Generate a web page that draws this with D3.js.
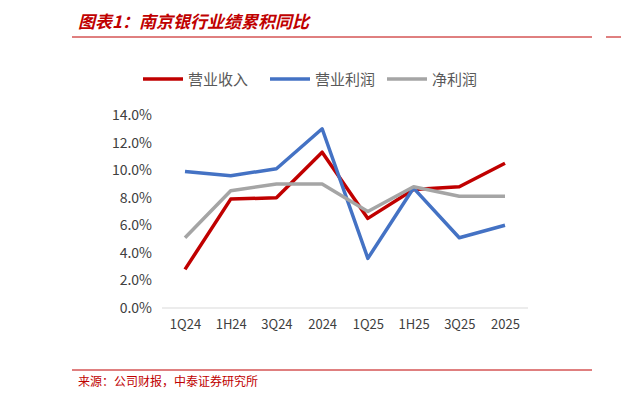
<!DOCTYPE html>
<html><head><meta charset="utf-8">
<script src="https://cdn.jsdelivr.net/npm/d3@7"></script>
<style>body{margin:0;background:#fff}</style>
</head><body>
<svg id="c" width="621" height="400"></svg>
<script>
// data
var categories = ['1Q24', '1H24', '3Q24', '2024', '1Q25', '1H25', '3Q25', '2025'];
var revenue = [2.8, 7.9, 8.0, 11.3, 6.5, 8.6, 8.8, 10.5];
var opProfit = [9.9, 9.6, 10.1, 13.0, 3.6, 8.7, 5.1, 6.0];
var netProfit = [5.1, 8.5, 9.0, 9.0, 7.0, 8.8, 8.1, 8.1];
var yTicks = [0, 2, 4, 6, 8, 10, 12, 14];

var series = [
  {name: '营业收入', values: revenue, color: '#C00000'},
  {name: '营业利润', values: opProfit, color: '#4472C4'},
  {name: '净利润', values: netProfit, color: '#A5A5A5'}
];

var svg = d3.select('#c');
var font = '"Noto Sans CJK SC", sans-serif';

// title + rules
svg.append('text').attr('x', 78).attr('y', 28)
  .attr('font-family', font).attr('font-size', 17).attr('font-weight', 'bold')
  .attr('font-style', 'italic').attr('fill', '#C00000')
  .text('图表1：南京银行业绩累积同比');
svg.append('line').attr('x1', 72).attr('x2', 592).attr('y1', 37).attr('y2', 37)
  .attr('stroke', '#C00000').attr('stroke-width', 1);
svg.append('line').attr('x1', 606).attr('x2', 621).attr('y1', 37).attr('y2', 37)
  .attr('stroke', '#C00000').attr('stroke-width', 1);
svg.append('line').attr('x1', 72).attr('x2', 592).attr('y1', 370).attr('y2', 370)
  .attr('stroke', '#C00000').attr('stroke-width', 1);
svg.append('text').attr('x', 78).attr('y', 386)
  .attr('font-family', font).attr('font-size', 12).attr('fill', '#C00000')
  .text('来源：公司财报，中泰证券研究所');

var x = d3.scalePoint().domain(categories).range([185, 505]);
var y = d3.scaleLinear().domain([0, 14]).range([308, 115]);

var yAxis = svg.append('g').attr('transform', 'translate(158,0)')
  .call(d3.axisLeft(y).tickValues(yTicks).tickSize(0).tickPadding(6)
    .tickFormat(function(d) { return d.toFixed(1) + '%'; }));
yAxis.select('.domain').remove();
yAxis.selectAll('text').attr('font-family', font).attr('font-size', 14).attr('fill', '#404040');

var xAxis = svg.append('g').attr('transform', 'translate(0,308)')
  .call(d3.axisBottom(x).tickSize(0).tickPadding(12));
xAxis.select('.domain').attr('d', 'M162,0H528').attr('stroke', '#D9D9D9');
xAxis.selectAll('text').attr('font-family', font).attr('font-size', 13).attr('fill', '#404040');

var line = d3.line().x(function(d, i) { return x(categories[i]); }).y(function(d) { return y(d); });
series.forEach(function(s) {
  svg.append('path').datum(s.values).attr('d', line)
    .attr('fill', 'none').attr('stroke', s.color).attr('stroke-width', 3.5)
    .attr('stroke-linejoin', 'round');
});

// legend
var lx = [143, 270, 387];
series.forEach(function(s, i) {
  svg.append('line').attr('x1', lx[i]).attr('x2', lx[i] + 40).attr('y1', 79).attr('y2', 79)
    .attr('stroke', s.color).attr('stroke-width', 3.5);
  svg.append('text').attr('x', lx[i] + 45).attr('y', 85)
    .attr('font-family', font).attr('font-size', 15).attr('fill', '#595959')
    .text(s.name);
});
</script>
</body></html>
